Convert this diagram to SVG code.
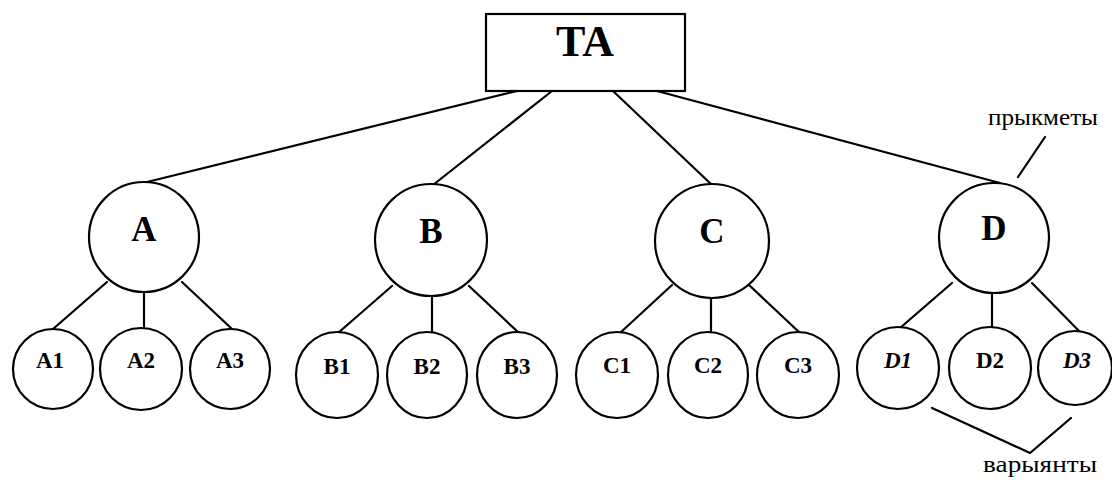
<svg xmlns="http://www.w3.org/2000/svg" width="1112" height="486" viewBox="0 0 1112 486">
  <style>
    .shape { fill: #fff; stroke: #000; stroke-width: 2.2; }
    .edge { stroke: #000; stroke-width: 2.2; fill: none; stroke-linecap: round; }
    .big { font-family: "Liberation Serif", "DejaVu Serif", serif; font-weight: bold; font-size: 35px; text-anchor: middle; }
    .title { font-size: 44px; }
    .small { font-family: "Liberation Serif", "DejaVu Serif", serif; font-weight: bold; font-size: 23px; text-anchor: middle; }
    .slant { font-style: italic; }
    .note { font-family: "Liberation Serif", "DejaVu Serif", serif; font-size: 23px; }
  </style>
  <rect width="1112" height="486" fill="#fff"/>

  <!-- connectors -->
  <g id="connectors">
    <line class="edge" x1="517" y1="91" x2="147" y2="182"/>
    <line class="edge" x1="552" y1="91" x2="433" y2="185"/>
    <line class="edge" x1="613" y1="91" x2="712" y2="185"/>
    <line class="edge" x1="657" y1="91" x2="1000" y2="183"/>

    <line class="edge" x1="107" y1="282" x2="53" y2="329"/>
    <line class="edge" x1="144" y1="292" x2="144" y2="329"/>
    <line class="edge" x1="182" y1="282" x2="232" y2="329"/>

    <line class="edge" x1="392" y1="286" x2="338" y2="333"/>
    <line class="edge" x1="432" y1="297" x2="432" y2="333"/>
    <line class="edge" x1="469" y1="286" x2="519" y2="333"/>

    <line class="edge" x1="672" y1="285" x2="620" y2="333"/>
    <line class="edge" x1="711" y1="298" x2="711" y2="333"/>
    <line class="edge" x1="749" y1="285" x2="800" y2="333"/>

    <line class="edge" x1="952" y1="283" x2="900" y2="328"/>
    <line class="edge" x1="992" y1="292" x2="992" y2="327"/>
    <line class="edge" x1="1032" y1="283" x2="1080" y2="332"/>

    <!-- label pointers -->
    <line class="edge" x1="1045" y1="137" x2="1018" y2="177"/>
    <polyline class="edge" points="932,408 1030,453 1071,418"/>
  </g>

  <!-- root -->
  <g id="node-TA">
    <rect class="shape" x="486" y="14" width="199" height="77"/>
    <text class="big title" x="585" y="56">TA</text>
  </g>

  <!-- features -->
  <g id="node-A">
    <circle class="shape" cx="144" cy="237" r="55"/>
    <text class="big" x="144" y="241">A</text>
  </g>
  <g id="node-B">
    <circle class="shape" cx="431" cy="240" r="56"/>
    <text class="big" x="431" y="243">B</text>
  </g>
  <g id="node-C">
    <circle class="shape" cx="712" cy="241" r="57"/>
    <text class="big" x="712" y="243">C</text>
  </g>
  <g id="node-D">
    <circle class="shape" cx="994" cy="238" r="55"/>
    <text class="big" x="994" y="240">D</text>
  </g>

  <!-- variants -->
  <g id="node-A1"><circle class="shape" cx="53" cy="369" r="40"/><text class="small" x="50" y="368">A1</text></g>
  <g id="node-A2"><circle class="shape" cx="141" cy="369" r="41"/><text class="small" x="141" y="368">A2</text></g>
  <g id="node-A3"><circle class="shape" cx="230" cy="369" r="40"/><text class="small" x="230" y="368">A3</text></g>

  <g id="node-B1"><ellipse class="shape" cx="337" cy="375" rx="41" ry="43"/><text class="small" x="337" y="374">B1</text></g>
  <g id="node-B2"><ellipse class="shape" cx="427" cy="375" rx="40" ry="43"/><text class="small" x="427" y="374">B2</text></g>
  <g id="node-B3"><ellipse class="shape" cx="517" cy="375" rx="40" ry="43"/><text class="small" x="517" y="374">B3</text></g>

  <g id="node-C1"><ellipse class="shape" cx="617" cy="375" rx="41" ry="43"/><text class="small" x="617" y="373">C1</text></g>
  <g id="node-C2"><ellipse class="shape" cx="708" cy="375" rx="40" ry="43"/><text class="small" x="708" y="373">C2</text></g>
  <g id="node-C3"><ellipse class="shape" cx="798" cy="375" rx="41" ry="43"/><text class="small" x="798" y="373">C3</text></g>

  <g id="node-D1"><circle class="shape" cx="898" cy="368" r="41"/><text class="small slant" x="898" y="368">D1</text></g>
  <g id="node-D2"><circle class="shape" cx="990" cy="368" r="41"/><text class="small" x="990" y="368">D2</text></g>
  <g id="node-D3"><circle class="shape" cx="1075" cy="368" r="37"/><text class="small slant" x="1077" y="368">D3</text></g>

  <!-- annotations -->
  <g id="label-features">
    <text class="note" x="988" y="125" textLength="110" lengthAdjust="spacingAndGlyphs">прыкметы</text>
  </g>
  <g id="label-variants">
    <text class="note" x="983" y="472" textLength="114" lengthAdjust="spacingAndGlyphs">варыянты</text>
  </g>
</svg>
